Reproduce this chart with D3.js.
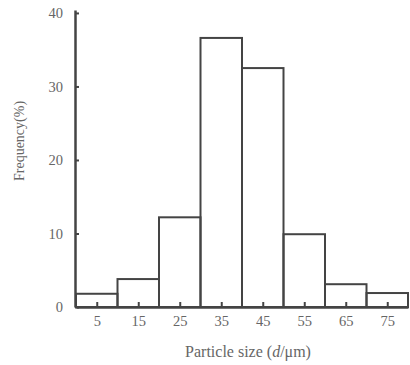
<!DOCTYPE html>
<html>
<head>
<meta charset="utf-8">
<script src="https://cdn.jsdelivr.net/npm/d3@7"></script>
<style>
  body { margin: 0; background: #fff; }
  text { font-family: "Liberation Serif", "DejaVu Serif", serif; }
</style>
</head>
<body>
<div id="chart"></div>
<script>
// bin edges (µm) and frequency (%) per bin
const binStart = [0, 10, 20, 30, 40, 50, 60, 70];
const binEnd = [10, 20, 30, 40, 50, 60, 70, 80];
const frequency = [1.8, 3.8, 12.2, 36.6, 32.5, 9.9, 3.1, 1.9];
const xTicks = [5, 15, 25, 35, 45, 55, 65, 75];
const yTicks = [0, 10, 20, 30, 40];

const width = 410, height = 365;
const lineColor = "#444";
const textColor = "#666";

const svg = d3.select("#chart").append("svg")
    .attr("width", width)
    .attr("height", height);

const xScale = d3.scaleLinear().domain([0, 80]).range([76, 408]);
const yScale = d3.scaleLinear().domain([0, 40.4]).range([307, 10]);

const bars = binStart.map((s, i) => ({ s: s, e: binEnd[i], v: frequency[i] }));

svg.selectAll("rect.bar")
    .data(bars)
    .enter()
    .append("rect")
    .attr("class", "bar")
    .attr("x", d => xScale(d.s))
    .attr("width", d => xScale(d.e) - xScale(d.s))
    .attr("y", d => yScale(d.v))
    .attr("height", d => yScale(0) - yScale(d.v))
    .style("fill", "none")
    .style("stroke", lineColor)
    .style("stroke-width", 2);

// x axis, ticks point up into the plot
const xAxis = svg.append("g")
    .attr("transform", `translate(0,${yScale(0)})`)
    .call(d3.axisBottom(xScale).tickValues(xTicks).tickSizeInner(-5).tickSizeOuter(0).tickPadding(9));

// y axis, ticks point right
const yAxis = svg.append("g")
    .attr("transform", `translate(${xScale(0) - 1},0)`)
    .call(d3.axisLeft(yScale).tickValues(yTicks).tickSizeInner(-4).tickSizeOuter(0).tickPadding(12));

[xAxis, yAxis].forEach(g => {
    g.select(".domain").style("stroke", lineColor).style("stroke-width", 2.5);
    g.selectAll(".tick line").style("stroke", lineColor).style("stroke-width", 2);
    g.selectAll(".tick text")
        .style("fill", textColor)
        .style("font-size", "14.5px")
        .style("font-family", "Liberation Serif, serif");
});

// axis titles
svg.append("text")
    .attr("transform", "translate(24,141) rotate(-90)")
    .attr("text-anchor", "middle")
    .style("font-size", "14px")
    .style("fill", textColor)
    .text("Frequency(%)");

const xt = svg.append("text")
    .attr("x", 248)
    .attr("y", 357)
    .attr("text-anchor", "middle")
    .style("font-size", "16px")
    .style("fill", textColor);
xt.append("tspan").text("Particle size (");
xt.append("tspan").style("font-style", "italic").text("d");
xt.append("tspan").text("/μm)");
</script>
</body>
</html>
